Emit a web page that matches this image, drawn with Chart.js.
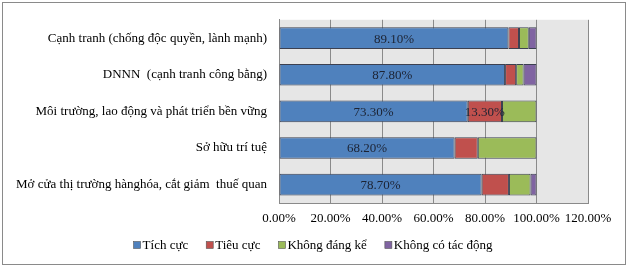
<!DOCTYPE html>
<html><head><meta charset="utf-8">
<script src="https://cdn.jsdelivr.net/npm/chart.js@4"></script>
<style>html,body{margin:0;padding:0;background:#fff}#wrap{width:629px;height:268px;position:relative}</style>
</head><body><div id="wrap"><canvas id="c" width="629" height="268"></canvas></div>
<script>
const categories = ["Cạnh tranh (chống độc quyền, lành mạnh)", "DNNN  (cạnh tranh công bằng)", "Môi trường, lao động và phát triển bền vững", "Sở hữu trí tuệ", "Mở cửa thị trường hànghóa, cắt giảm  thuế quan"];
const seriesNames = ["Tích cực", "Tiêu cực", "Không đáng kể", "Không có tác động"];
const tichCuc = [89.1, 87.8, 73.3, 68.2, 78.7];
const tieuCuc = [4.1, 4.3, 13.3, 9.0, 10.6];
const khongDangKe = [3.8, 2.9, 13.4, 22.8, 8.4];
const khongTacDong = [3.0, 5.0, 0, 0, 2.3];
const xTicks = [0, 20, 40, 60, 80, 100, 120];
// which values carry a data label: [seriesIndex, categoryIndex]
const labelled = [[0,0],[0,1],[0,2],[0,3],[0,4],[1,2]];

const colors = ["#4f81bd", "#c0504d", "#9bbb59", "#8064a2"];
const FONT = "Liberation Serif";

const bgPlugin = {
  id: 'bg',
  beforeDraw(chart) {
    const ctx = chart.ctx, a = chart.chartArea;
    ctx.save();
    ctx.fillStyle = '#fff';
    ctx.fillRect(0, 0, chart.width, chart.height);
    ctx.fillStyle = '#e6e6e6';
    ctx.fillRect(a.left, a.top, a.right - a.left, a.bottom - a.top);
    ctx.strokeStyle = '#8a8a8a';
    ctx.lineWidth = 1;
    ctx.strokeRect(2.5, 2.5, 623, 262);
    ctx.restore();
  },
  afterDatasetsDraw(chart) {
    const ctx = chart.ctx;
    ctx.save();
    ctx.font = '13px "' + FONT + '"';
    ctx.fillStyle = '#1c2333';
    ctx.textAlign = 'center';
    ctx.textBaseline = 'middle';
    labelled.forEach(([s, i]) => {
      const el = chart.getDatasetMeta(s).data[i];
      const p = el.getProps(['x', 'y', 'base'], true);
      const v = chart.data.datasets[s].data[i];
      ctx.fillText(v.toFixed(2) + '%', (p.x + p.base) / 2, p.y + 1);
    });
    // legend
    ctx.font = '13px "' + FONT + '"';
    ctx.textAlign = 'left';
    const box = 7, gapIn = 2, gapOut = 18;
    const widths = seriesNames.map(n => ctx.measureText(n).width);
    const total = widths.reduce((a, w) => a + box + gapIn + w, 0) + gapOut * (seriesNames.length - 1);
    let x = 313 - total / 2;
    const yc = 245;
    seriesNames.forEach((n, k) => {
      ctx.fillStyle = colors[k];
      ctx.fillRect(x, yc - 3.5, box, box);
      ctx.strokeStyle = '#555';
      ctx.lineWidth = 0.6;
      ctx.strokeRect(x, yc - 3.5, box, box);
      ctx.fillStyle = '#000';
      ctx.fillText(n, x + box + gapIn, yc + 1);
      x += box + gapIn + widths[k] + gapOut;
    });
    ctx.restore();
  }
};

const datasets = [tichCuc, tieuCuc, khongDangKe, khongTacDong].map((d, k) => ({
  label: seriesNames[k],
  data: d,
  backgroundColor: colors[k],
  borderColor: '#3c4050',
  borderWidth: ctx => (ctx.raw ? 1 : 0),
  borderSkipped: false,
  categoryPercentage: 0.59,
  barPercentage: 1.0
}));

new Chart(document.getElementById('c'), {
  type: 'bar',
  data: { labels: categories, datasets },
  options: {
    indexAxis: 'y',
    responsive: false,
    animation: false,
    devicePixelRatio: 1,
    layout: { padding: { left: 0, right: 41, top: 16, bottom: 0 } },
    plugins: { legend: { display: false }, tooltip: { enabled: false } },
    scales: {
      x: {
        stacked: true, min: 0, max: 120,
        afterBuildTicks(scale) { scale.ticks = xTicks.map(v => ({ value: v })); },
        afterFit(scale) { scale.height = 65; },
        ticks: {
          font: { family: FONT, size: 13 }, color: '#000', padding: 8,
          maxRotation: 0, autoSkip: false,
          callback: v => Number(v).toFixed(2) + '%'
        },
        grid: { color: '#8a8a8a', drawTicks: false, lineWidth: 1 },
        border: { color: '#8a8a8a' }
      },
      y: {
        stacked: true,
        afterFit(scale) { scale.width = 279; },
        ticks: { font: { family: FONT, size: 13 }, color: '#000', padding: 12 },
        grid: { display: false, drawTicks: false },
        border: { color: '#8a8a8a' }
      }
    }
  },
  plugins: [bgPlugin]
});
</script></body></html>
